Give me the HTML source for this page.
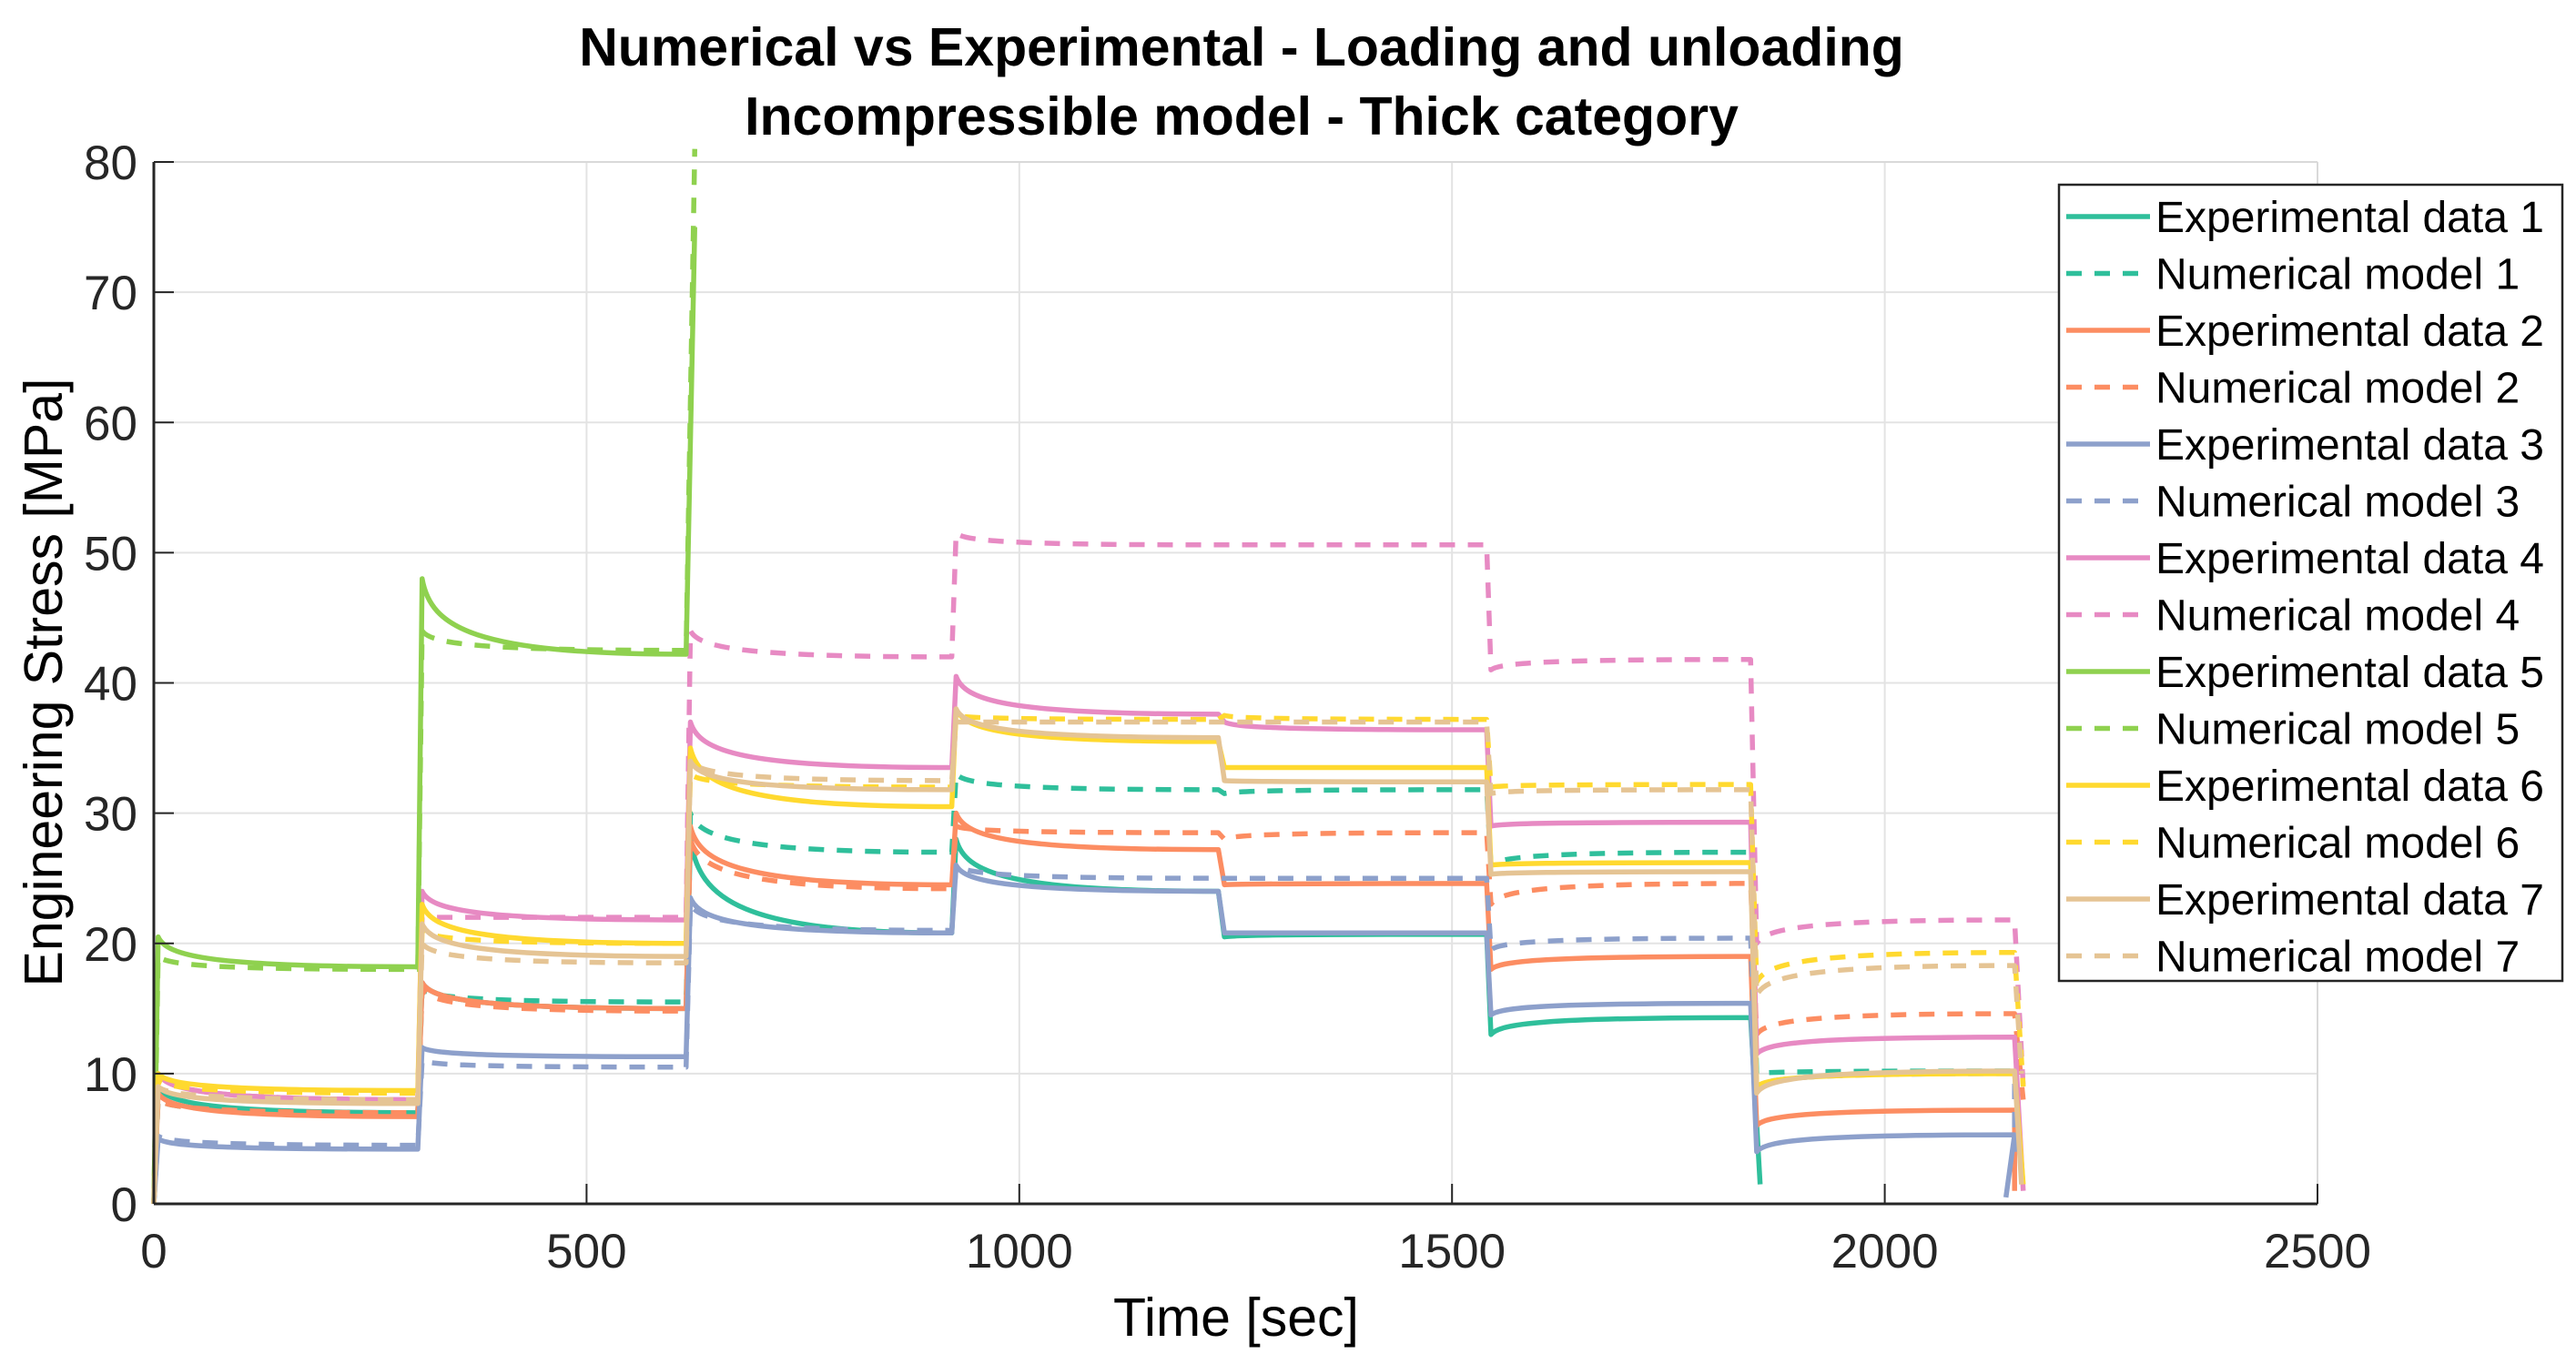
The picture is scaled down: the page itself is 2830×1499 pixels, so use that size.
<!DOCTYPE html>
<html><head><meta charset="utf-8"><style>
html,body{margin:0;padding:0;background:#fff;}
svg{display:block;font-family:"Liberation Sans",Arial,sans-serif;}
</style></head><body>
<svg id="chart" width="2830" height="1499" viewBox="0 0 2830 1499">
<rect width="2830" height="1499" fill="#fff"/>
<text x="1364" y="72" text-anchor="middle" font-size="59" font-weight="bold">Numerical vs Experimental - Loading and unloading</text>
<text x="1364" y="148" text-anchor="middle" font-size="59" font-weight="bold">Incompressible model - Thick category</text>
<g id="grid"></g>
<g id="series"></g>
<g id="axes"></g>
<text x="1358" y="1468" text-anchor="middle" font-size="59">Time [sec]</text>
<text transform="translate(68,750) rotate(-90)" text-anchor="middle" font-size="59">Engineering Stress [MPa]</text>
<g id="legend"></g>
</svg>
<script>
const xTicks=[0,500,1000,1500,2000,2500];
const yTicks=[0,10,20,30,40,50,60,70,80];
const segStart=[5,310,620,927,1237,1545,1852];
const segEnd=[305,615,922,1230,1540,1845,2150];
const seriesNames=["Experimental data 1","Numerical model 1","Experimental data 2","Numerical model 2","Experimental data 3","Numerical model 3","Experimental data 4","Numerical model 4","Experimental data 5","Numerical model 5","Experimental data 6","Numerical model 6","Experimental data 7","Numerical model 7"];
const seriesColors=["#2fbf9b","#2fbf9b","#fc8d62","#fc8d62","#8da0cb","#8da0cb","#e78ac3","#e78ac3","#8fd14f","#8fd14f","#ffd92f","#ffd92f","#e5c494","#e5c494"];
// start value of each segment (after load step)
const exp1Start=[9,17,28,28,20.5,13];
const exp1End=[7,15,20.8,24,20.7,14.3];
const num1Start=[8,16.5,30,33,31.5,26,10];
const num1End=[7,15.5,27,31.8,31.8,27,10.2];
const exp2Start=[8.5,17,29,30,24.5,18,6];
const exp2End=[6.7,15,24.5,27.2,24.6,19,7.2];
const num2Start=[8,16.5,28,29,28,23,13];
const num2End=[7,14.8,24.2,28.5,28.5,24.6,14.6];
const exp3Start=[5,12,23.5,26,20.8,14.5,4];
const exp3End=[4.2,11.3,20.8,24,20.8,15.4,5.3];
const num3Start=[5.2,11,23,26,25,19.5,9];
const num3End=[4.5,10.5,21,25,25,20.4,10];
const exp4Start=[10,24,37,40.5,37,29,11.5];
const exp4End=[8,21.8,33.5,37.6,36.4,29.3,12.8];
const num4Start=[10,22,44,51.5,50.6,41,20];
const num4End=[8,22,42,50.6,50.6,41.8,21.8];
const exp5Start=[20.5,48];
const exp5End=[18.2,42.2];
const num5Start=[19,44];
const num5End=[18,42.5];
const exp6Start=[10,23,35,38,33.5,26,9];
const exp6End=[8.7,20,30.5,35.5,33.5,26.2,10];
const num6Start=[9.5,21,33,37.5,37.5,32,17];
const num6End=[8.5,20,32,37.2,37.2,32.2,19.3];
const exp7Start=[9,21.5,34,38,32.5,25.3,8.5];
const exp7End=[7.7,19,31.8,35.8,32.4,25.5,10.2];
const num7Start=[9,20,34,37,37,31.5,16];
const num7End=[8,18.5,32.5,37,37,31.8,18.3];
// final point after last segment [time, value]
const finalTime=[1856,2160,2150,2160,2140,2150,2160,2160,625,625,2160,2160,2158,2158];
const finalValue=[1.5,1,1,8,0.5,4,1,9,75,81,1.5,9,1.5,10];
const allStarts=[exp1Start,num1Start,exp2Start,num2Start,exp3Start,num3Start,exp4Start,num4Start,exp5Start,num5Start,exp6Start,num6Start,exp7Start,num7Start];
const allEnds=[exp1End,num1End,exp2End,num2End,exp3End,num3End,exp4End,num4End,exp5End,num5End,exp6End,num6End,exp7End,num7End];

const L=169,R=2546,T=178,B=1323;
const X=t=>L+t/2500*(R-L);
const Y=v=>B-v/80*(B-T);
const NS="http://www.w3.org/2000/svg";
function mk(tag,attrs,parent){const e=document.createElementNS(NS,tag);for(const k in attrs)e.setAttribute(k,attrs[k]);parent.appendChild(e);return e;}

const grid=document.getElementById('grid');
xTicks.forEach(t=>{if(t>0){const l=mk('line',{x1:X(t),x2:X(t),y1:T,y2:B,stroke:'#e3e3e3','stroke-width':2},grid);

}});
yTicks.forEach(v=>{if(v>0){const l=mk('line',{x1:L,x2:R,y1:Y(v),y2:Y(v),stroke:'#e3e3e3','stroke-width':2},grid);

}});

const sg=document.getElementById('series');
for(let i=0;i<14;i++){
  const st=allStarts[i],en=allEnds[i];
  let d='M'+X(0)+','+Y(0);
  for(let k=0;k<st.length;k++){
    const s=segStart[k],e=segEnd[k],p=st[k],q=en[k];
    d+=' L'+X(s)+','+Y(p);
    d+=' C'+X(s+10)+','+Y(q+(p-q)*0.35)+' '+X(s+60)+','+Y(q)+' '+X(e)+','+Y(q);
  }
  d+=' L'+X(finalTime[i])+','+Y(finalValue[i]);
  const dashed=i%2===1;
  const p=mk('path',{d:d,fill:'none',stroke:seriesColors[i],'stroke-width':5.5,'stroke-linejoin':'round'},sg);
  if(dashed)p.setAttribute('stroke-dasharray','17,14');
  
  
}

const ax=document.getElementById('axes');
mk('line',{x1:L,x2:R,y1:T,y2:T,stroke:'#d9d9d9','stroke-width':2},ax);
mk('line',{x1:R,x2:R,y1:T,y2:B,stroke:'#d9d9d9','stroke-width':2},ax);
mk('line',{x1:L,x2:R,y1:B,y2:B,stroke:'#262626','stroke-width':3},ax);
mk('line',{x1:L,x2:L,y1:T,y2:B,stroke:'#262626','stroke-width':3},ax);
xTicks.forEach(t=>{mk('line',{x1:X(t),x2:X(t),y1:B,y2:B-22,stroke:'#262626','stroke-width':2},ax);
  const tx=mk('text',{x:X(t),y:B+70,'text-anchor':'middle','font-size':53,fill:'#262626'},ax);tx.textContent=t;
  
  });
yTicks.forEach(v=>{mk('line',{x1:L,x2:L+22,y1:Y(v),y2:Y(v),stroke:'#262626','stroke-width':2},ax);
  const tx=mk('text',{x:L-18,y:Y(v)+19,'text-anchor':'end','font-size':53,fill:'#262626'},ax);tx.textContent=v;
  
  });

const lg=document.getElementById('legend');
const box=mk('rect',{x:2262,y:203,width:553,height:875,fill:'#fff',stroke:'#262626','stroke-width':2.5},lg);


for(let i=0;i<14;i++){
  const cy=238+i*62.5;
  const g=mk('g',{},lg);
  
  
  const l=mk('line',{x1:2270,x2:2362,y1:cy,y2:cy,stroke:seriesColors[i],'stroke-width':5.5},g);
  if(i%2===1)l.setAttribute('stroke-dasharray','17,14');
  const t=mk('text',{x:2368,y:cy+17,'font-size':48,fill:'#000'},g);t.textContent=seriesNames[i];
}
</script>
</body></html>
